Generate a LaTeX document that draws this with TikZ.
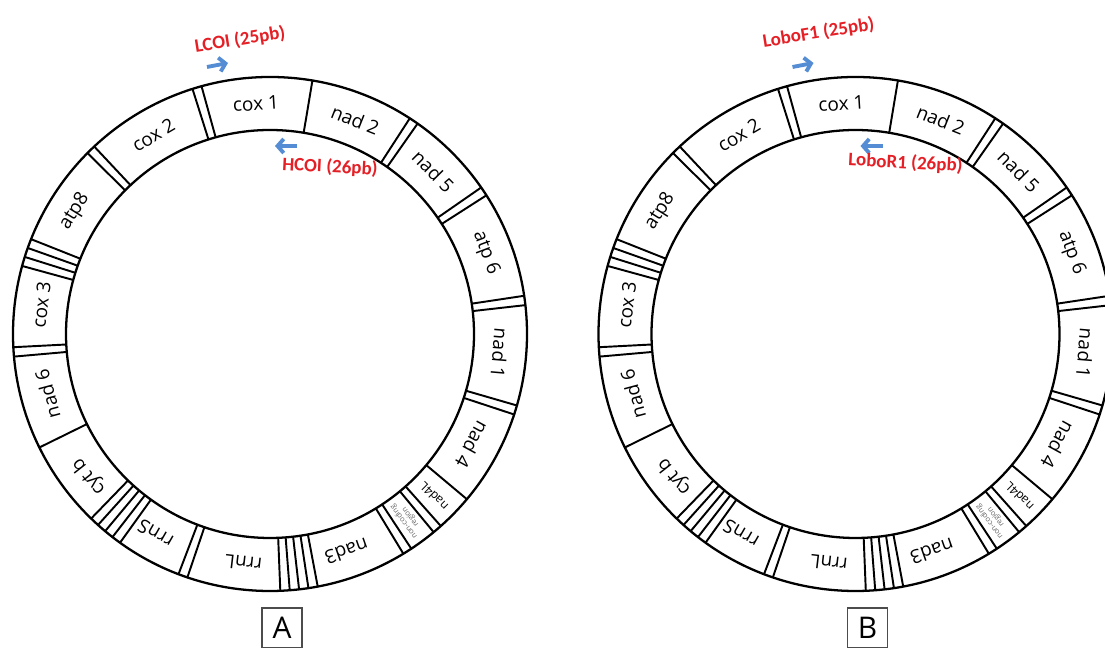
\documentclass[tikz,border=0pt]{standalone}
\usepackage{fontspec}
\setmainfont{Open Sans}
\newfontfamily\primerfont{Carlito}
\usetikzlibrary{arrows.meta}
\definecolor{primerred}{RGB}{228,32,38}
\definecolor{primerblue}{RGB}{84,141,212}
\tikzset{
    ring/.style={
        draw=black,
        line width=1.3pt},
    divider/.style={
        draw=black,
        line width=1.1pt},
    gene/.style={
        font=\fontsize{10.8}{12}\selectfont,
        inner sep=0pt},
    small gene/.style={
        font=\fontsize{6.8}{8}\selectfont,
        inner sep=0pt},
    tiny gene/.style={
        font=\fontsize{4.3}{4.6}\selectfont,
        text=black!60,
        align=center,
        inner sep=0pt},
    primer/.style={
        font=\primerfont\bfseries\fontsize{10.8}{12}\selectfont,
        text=primerred,
        inner sep=0pt},
    primer arrow/.style={
        draw=primerblue,
        line width=2.2pt,
        -{Straight Barb[length=3.5pt, width=8pt]}},
    panel box/.style={
        draw=black!70,
        line width=0.6pt,
        minimum size=0.8cm,
        inner sep=0pt,
        font=\fontsize{17}{20}\selectfont}
}

\begin{document}
\begin{tikzpicture}[x=0.02cm, y=0.02cm]
\useasboundingbox (0,0) rectangle (1105,648);

\foreach \panel/\sx/\fwd/\fx/\fy/\rev/\rx/\ry in {
    A/270/LCOI (25pb)/-30/294/HCOI (26pb)/60/167,
    B/855.5/LoboF1 (25pb)/-37/301/LoboR1 (26pb)/50/171}{

\begin{scope}[shift={(\sx,314)}]
\draw [ring] (0,0) circle (257);
\draw [ring] (0,0) circle (204);

\foreach \c/\n in {80.5/1, 106.5/2, 134.2/2, 161.5/4, 184/2, 206.2/1, 230.1/5, 250.2/2,
    276.5/5, 302.3/2, 310.6/2, 320/1, 342.8/2, 7.5/2, 33.7/2, 56/2}{
    \foreach \k in {1,...,\n}{
        \pgfmathsetmacro\a{\c+(\k-(\n+1)/2)*2.1}
        \draw [divider] (\a:204) -- (\a:257);
    }
}

\foreach \ang/\name/\txt in {93.5/cox1/cox 1, 120.4/cox2/cox 2, 147.9/atp8/atp8,
    172.8/cox3/cox 3, 195.1/nad6/nad 6, 218.2/cytb/cyt b, 240.2/rrnS/rrnS,
    263.4/rrnL/rrnL, 289.4/nad3/nad3, 331.4/nad4/nad 4, 355.2/nad1/nad 1,
    20.6/atp6/atp 6, 44.9/nad5/nad 5, 68.3/nad2/nad 2}
    \node [gene, rotate=\ang-90] (\panel-\name) at (\ang:230.5) {\txt};
\node [small gene, rotate=135.3] (\panel-nad4L) at (315.3:230.5) {nad4L};
\node [tiny gene, rotate=126.5] (\panel-noncoding) at (306.5:230.5) {non-coding\\region};

\coordinate (\panel-fwd-tail) at (-63,267);
\coordinate (\panel-fwd-head) at (-42,271);
\coordinate (\panel-rev-tail) at (27,188);
\coordinate (\panel-rev-head) at (5,188);
\draw [primer arrow] (\panel-fwd-tail) -- (\panel-fwd-head);
\draw [primer arrow] (\panel-rev-tail) -- (\panel-rev-head);
\node [primer, rotate=9] (\panel-fwd-label) at (\fx,\fy) {\fwd};
\node [primer, rotate=-3] (\panel-rev-label) at (\rx,\ry) {\rev};

\node [panel box] (\panel-box) at (12,-294) {\panel};
\end{scope}
}

\end{tikzpicture}
\end{document}
